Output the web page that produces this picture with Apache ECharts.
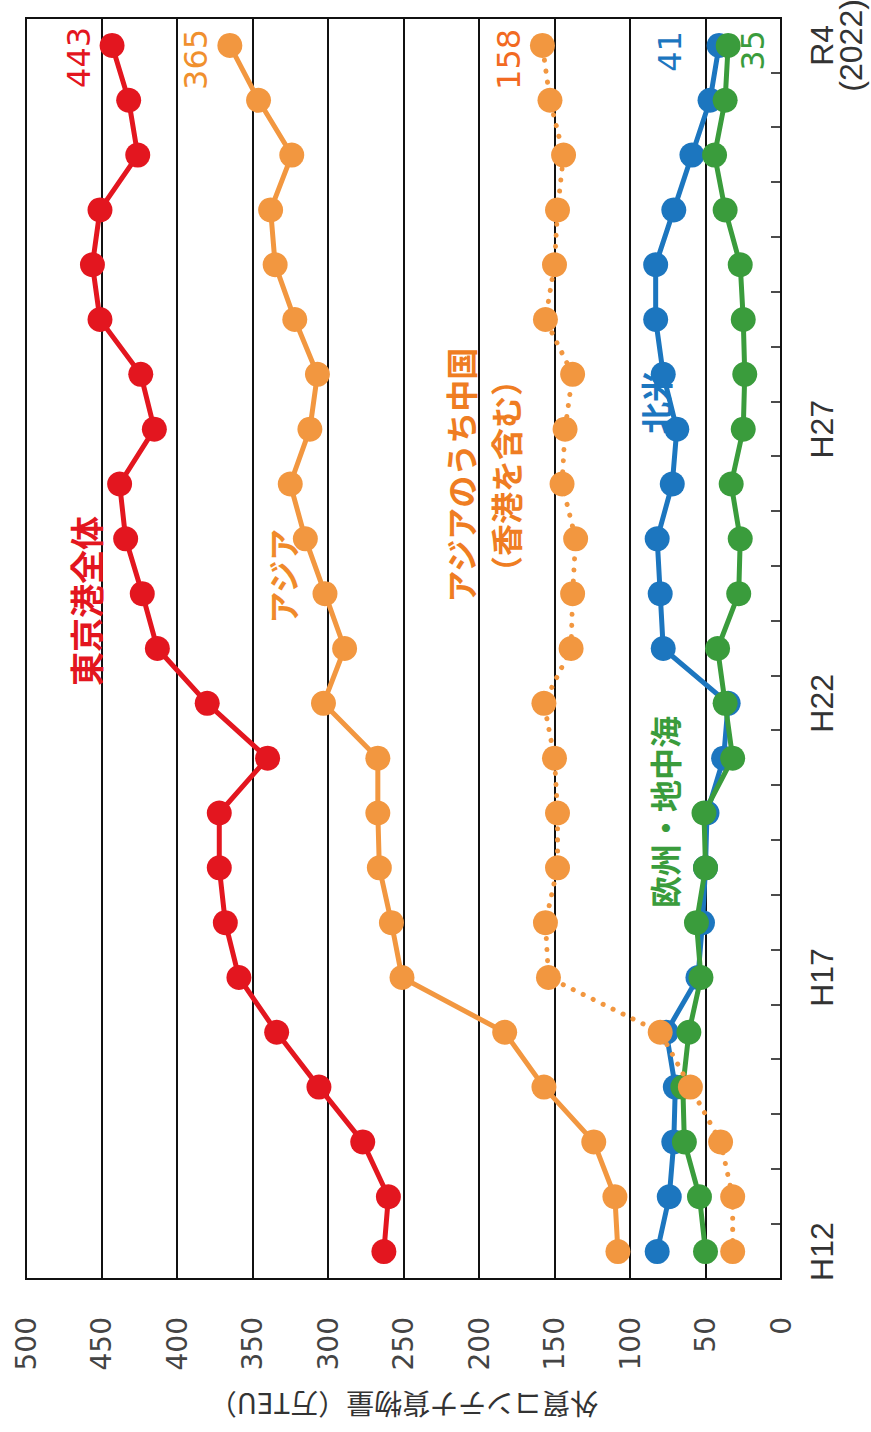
<!DOCTYPE html>
<html>
<head>
<meta charset="utf-8">
<script src="https://cdn.jsdelivr.net/npm/echarts@6/dist/echarts.min.js"></script>
<style>
  html, body { margin: 0; padding: 0; background: #fff; overflow: hidden; }
  body { width: 871px; height: 1432px; position: relative; }
  /* the chart is laid out in landscape and turned a quarter turn counter-clockwise */
  #chart {
    position: absolute; left: 0; top: 0;
    width: 1432px; height: 871px;
    transform-origin: 0 0;
    transform: translateY(1432px) rotate(-90deg);
    background: #fff;
  }
</style>
</head>
<body>
<div id="chart"></div>
<script>
// Fiscal years (Heisei 12 .. Reiwa 4)
const years = ['H12','H13','H14','H15','H16','H17','H18','H19','H20','H21','H22',
               'H23','H24','H25','H26','H27','H28','H29','H30','R1','R2','R3','R4'];
const tickLabels = ['H12','','','','','H17','','','','','H22',
                    '','','','','H27','','','','','','','R4\n(2022)'];
const valueTicks = [0, 50, 100, 150, 200, 250, 300, 350, 400, 450, 500];

// Foreign-trade container volume, 10k TEU
const tokyoTotal = [263, 260, 277, 306, 334, 359, 368, 372, 372, 340, 380,
                    413, 423, 434, 438, 415, 424, 451, 456, 451, 426, 432, 443];
const asia       = [108, 110, 124, 157, 183, 251, 258, 266, 267, 267, 303,
                    289, 302, 315, 325, 312, 307, 322, 335, 338, 324, 346, 365];
const china      = [32, 32, 40, 60, 80, 154, 156, 148, 148, 150, 157,
                    139, 138, 136, 145, 143, 138, 156, 150, 148, 144, 153, 158];
const northAmerica = [82, 74, 71, 70, 76, 55, 52, 50, 49, 38, 35,
                      78, 80, 82, 72, 69, 78, 83, 83, 71, 59, 47, 41];
const europeMed  = [50, 54, 64, 65, 61, 53, 56, 50, 51, 32, 37,
                    42, 28, 27, 33, 25, 24, 25, 27, 37, 44, 37, 35];

const RED = '#e3161f', ORANGE = '#f29740', BLUE = '#1c76bf', GREEN = '#3a9c3c';
const JP = '"Noto Sans CJK JP", sans-serif';
const NUM = '"DejaVu Sans", Verdana, sans-serif';
const last = years.length - 1;

function endLabel(color, position, offset) {
  return {
    show: true, position: position, offset: offset,
    color: color, fontFamily: NUM, fontSize: 32,
    formatter: p => (p.dataIndex === last ? String(p.value) : '')
  };
}

function lineSeries(name, data, color, z, label, dotted) {
  return {
    name: name, type: 'line', data: data, z: z,
    symbol: 'circle', symbolSize: 25,
    itemStyle: { color: color },
    lineStyle: dotted
      ? { color: color, width: 5, type: [0.1, 11], cap: 'round' }
      : { color: color, width: 5 },
    label: label,
    emphasis: { disabled: true },
    animation: false
  };
}

const chart = echarts.init(document.getElementById('chart'), null,
  { renderer: 'svg', width: 1432, height: 871 });

chart.setOption({
  backgroundColor: '#fff',
  animation: false,
  grid: { left: 153, right: 18, top: 26, bottom: 90, show: true,
          borderColor: '#111', borderWidth: 2, containLabel: false, outerBoundsMode: 'none' },
  xAxis: {
    type: 'category', data: years, boundaryGap: true,
    axisLine: { show: true, lineStyle: { color: '#111', width: 2 } },
    axisTick: { show: true, inside: true, length: 10, interval: 0,
                lineStyle: { color: '#111', width: 1.5 } },
    axisLabel: {
      interval: 0, margin: 26, color: '#333',
      fontFamily: '"Liberation Sans Narrow", "Arial Narrow", "Liberation Sans", sans-serif',
      fontSize: 32, lineHeight: 29,
      formatter: (v, i) => tickLabels[i]
    },
    splitLine: { show: false }
  },
  yAxis: {
    type: 'value', min: valueTicks[0], max: valueTicks[valueTicks.length - 1], interval: 50,
    name: '外貿コンテナ貨物量（万TEU）', nameLocation: 'middle', nameGap: 112,
    nameTextStyle: { fontFamily: JP, fontSize: 28, color: '#333' },
    axisLine: { show: false }, axisTick: { show: false },
    axisLabel: { margin: 38, color: '#444', fontFamily: NUM, fontSize: 28 },
    splitLine: { show: true, lineStyle: { color: '#111', width: 2 } }
  },
  series: [
    lineSeries('東京港全体', tokyoTotal, RED, 5, endLabel(RED, 'top', [-12, 0])),
    lineSeries('アジア', asia, ORANGE, 4, endLabel('#f0902e', 'top', [-14, 0])),
    lineSeries('北米', northAmerica, BLUE, 6, endLabel(BLUE, 'top', [-6, -16])),
    lineSeries('欧州・地中海', europeMed, GREEN, 7, endLabel(GREEN, 'bottom', [-5, -9])),
    lineSeries('アジアのうち中国（香港を含む）', china, ORANGE, 8,
               endLabel('#f26a22', 'top', [-14, 0]), true)
  ],
  graphic: [
    { type: 'text', z: 100, style: { text: '東京港全体', x: 831, y: 85, fill: RED,
      font: 'bold 34px ' + JP, textAlign: 'center', textVerticalAlign: 'middle' } },
    { type: 'text', z: 100, style: { text: 'アジア', x: 856, y: 282, fill: '#f08a2a',
      font: 'bold 32px ' + JP, textAlign: 'center', textVerticalAlign: 'middle' } },
    { type: 'text', z: 100, style: { text: 'アジアのうち中国', x: 957, y: 460, fill: '#ef7d22',
      font: 'bold 32px ' + JP, textAlign: 'center', textVerticalAlign: 'middle' } },
    { type: 'text', z: 100, style: { text: '（香港を含む）', x: 956, y: 505, fill: '#ef7d22',
      font: 'bold 32px ' + JP, textAlign: 'center', textVerticalAlign: 'middle' } },
    { type: 'text', z: 100, style: { text: '北米', x: 1030, y: 655, fill: BLUE,
      font: 'bold 32px ' + JP, textAlign: 'center', textVerticalAlign: 'middle' } },
    { type: 'text', z: 100, style: { text: '欧州・地中海', x: 620, y: 664, fill: GREEN,
      font: 'bold 32px ' + JP, textAlign: 'center', textVerticalAlign: 'middle' } }
  ]
});
</script>
</body>
</html>
